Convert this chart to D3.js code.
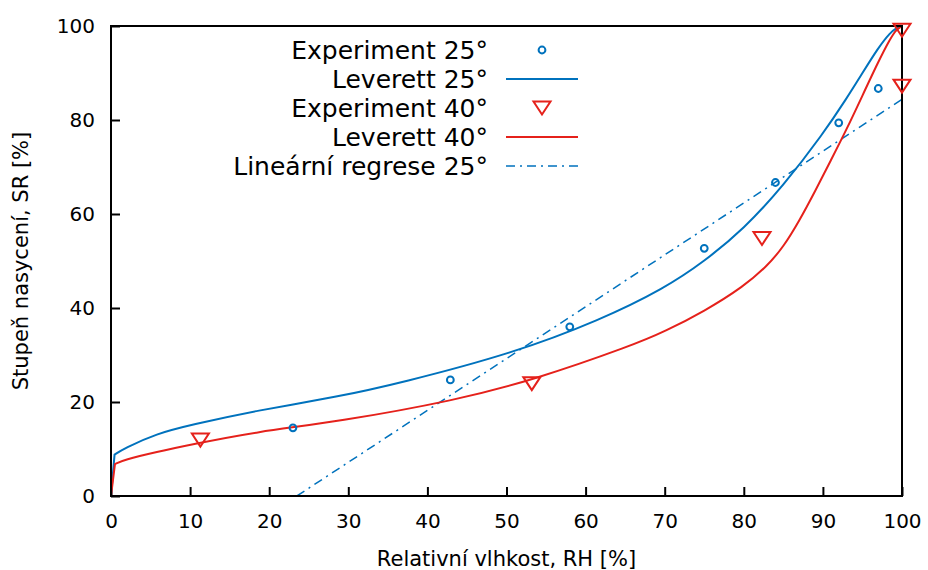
<!DOCTYPE html>
<html lang="cs">
<head>
<meta charset="UTF-8">
<title>Leverett</title>
<script src="https://cdn.jsdelivr.net/npm/d3@7"></script>
<style>
  body { margin: 0; background: #fff; }
  text { font-family: "DejaVu Sans", sans-serif; fill: #000; }
</style>
</head>
<body>
<div id="chart"></div>
<script>
// experiment 25 °C
const exp25X = [23.0, 42.9, 58.0, 75.0, 84.0, 92.0, 97.0];
const exp25Y = [14.5, 24.7, 36.0, 52.7, 66.7, 79.4, 86.7];
// Leverett 25 °C
const lev25X = [0, 0.45, 1.6, 5.8, 10, 18.4, 28.7, 36.5, 50.9, 61.8, 70, 75, 80, 85, 90, 93, 95, 97, 98.5, 99.3, 100];
const lev25Y = [0, 8.8, 10.1, 13.3, 15.1, 18.2, 21.1, 24.0, 30.4, 37.4, 44.2, 49.9, 56.8, 66.0, 77.0, 84.6, 90.0, 95.4, 98.6, 99.6, 100];
// experiment 40 °C
const exp40X = [11.3, 53.2, 82.3, 100, 100];
const exp40Y = [11.9, 23.9, 54.8, 99.1, 87.2];
// Leverett 40 °C
const lev40X = [0, 0.5, 1.6, 5.8, 10, 18.4, 28.7, 43.7, 53.4, 66, 70, 75, 80, 83, 85, 87, 89, 91, 93, 95, 97, 98.5, 99.3, 100];
const lev40Y = [0, 6.8, 7.7, 9.4, 10.9, 13.7, 15.8, 20.4, 24.7, 32.1, 35.0, 39.3, 44.6, 49.0, 53.0, 58.5, 64.8, 71.4, 78.0, 85.2, 92.4, 97.3, 99.3, 100];
// lineární regrese 25 °C
const regX = [23.5, 100];
const regY = [0, 84.4];

const xTicks = [0, 10, 20, 30, 40, 50, 60, 70, 80, 90, 100];
const yTicks = [0, 20, 40, 60, 80, 100];
const legendLabels = ["Experiment 25°", "Leverett 25°", "Experiment 40°", "Leverett 40°", "Lineární regrese 25°"];

const W = 928, H = 570;
const pad = { top: 26, left: 111, right: 26, bottom: 74 };
const width = W - pad.left - pad.right;
const height = H - pad.top - pad.bottom;
const blue = "#0072bd", red = "#e5211b";

const svg = d3.select("#chart").append("svg")
  .attr("width", W).attr("height", H);

const g = svg.append("g").attr("transform", `translate(${pad.left},${pad.top})`);

const x = d3.scaleLinear().domain([0, 100]).range([0, width]);
const y = d3.scaleLinear().domain([0, 100]).range([height, 0]);

g.append("defs").append("clipPath").attr("id", "clip")
  .append("rect").attr("width", width).attr("height", height);

// osy, tiky dovnitř
const xAxis = g.append("g").attr("transform", `translate(0,${height})`)
  .call(d3.axisBottom(x).tickValues(xTicks).tickSizeInner(-9).tickSizeOuter(0).tickPadding(18));
const yAxis = g.append("g")
  .call(d3.axisLeft(y).tickValues(yTicks).tickSizeInner(-9).tickSizeOuter(0).tickPadding(16));
[xAxis, yAxis].forEach(a => {
  a.select(".domain").remove();
  a.selectAll(".tick line").attr("stroke", "#000").attr("stroke-width", 2);
  a.selectAll(".tick text").style("font-size", "20px").attr("fill", "#000")
    .style("font-family", "DejaVu Sans, sans-serif");
});

const zip = (xs, ys) => xs.map((v, i) => [v, ys[i]]);
const smooth = d3.line().x(d => x(d[0])).y(d => y(d[1])).curve(d3.curveBasis);
const straight = d3.line().x(d => x(d[0])).y(d => y(d[1]));
// první úsek (skok u RH = 0) rovně, zbytek vyhlazeně
const levPath = pts => `M${x(pts[0][0])},${y(pts[0][1])}L` + smooth(pts.slice(1)).slice(1);

const plot = g.append("g").attr("clip-path", "url(#clip)");
plot.append("path").datum(zip(regX, regY)).attr("d", straight)
  .attr("fill", "none").attr("stroke", blue).attr("stroke-width", 1.5)
  .attr("stroke-dasharray", "9,5,2,5");
plot.append("path").attr("d", levPath(zip(lev25X, lev25Y)))
  .attr("fill", "none").attr("stroke", blue).attr("stroke-width", 2);
plot.append("path").attr("d", levPath(zip(lev40X, lev40Y)))
  .attr("fill", "none").attr("stroke", red).attr("stroke-width", 2);

// rámeček
g.append("rect").attr("width", width).attr("height", height)
  .attr("fill", "none").attr("stroke", "#000").attr("stroke-width", 2);

const tri = "M-8.5,-6.5L8.5,-6.5L0,6.5Z";

g.append("g").selectAll("circle").data(zip(exp25X, exp25Y)).join("circle")
  .attr("cx", d => x(d[0])).attr("cy", d => y(d[1])).attr("r", 3.4)
  .attr("fill", "none").attr("stroke", blue).attr("stroke-width", 2);
g.append("g").selectAll("path").data(zip(exp40X, exp40Y)).join("path")
  .attr("d", tri).attr("transform", d => `translate(${x(d[0])},${y(d[1])})`)
  .attr("fill", "none").attr("stroke", red).attr("stroke-width", 2);

// legenda
const leg = svg.append("g");
legendLabels.forEach((lab, i) => {
  const ly = 50 + i * 29;
  leg.append("text").attr("x", 488).attr("y", ly).attr("dy", "0.36em")
    .attr("text-anchor", "end").style("font-size", "25px").text(lab);
});
leg.append("circle").attr("cx", 542).attr("cy", 50).attr("r", 3.4)
  .attr("fill", "none").attr("stroke", blue).attr("stroke-width", 2);
leg.append("line").attr("x1", 506).attr("x2", 578).attr("y1", 79).attr("y2", 79)
  .attr("stroke", blue).attr("stroke-width", 2);
leg.append("path").attr("d", tri).attr("transform", "translate(542,108)")
  .attr("fill", "none").attr("stroke", red).attr("stroke-width", 2);
leg.append("line").attr("x1", 506).attr("x2", 578).attr("y1", 137).attr("y2", 137)
  .attr("stroke", red).attr("stroke-width", 2);
leg.append("line").attr("x1", 506).attr("x2", 578).attr("y1", 166).attr("y2", 166)
  .attr("stroke", blue).attr("stroke-width", 1.5).attr("stroke-dasharray", "9,5,2,5");

// popisky os
svg.append("text").attr("x", pad.left + width / 2).attr("y", 566)
  .attr("text-anchor", "middle").style("font-size", "21px")
  .text("Relativní vlhkost, RH [%]");
svg.append("text").attr("transform", `translate(28,${pad.top + height / 2}) rotate(-90)`)
  .attr("text-anchor", "middle").style("font-size", "21px")
  .text("Stupeň nasycení, SR [%]");
</script>
</body>
</html>
